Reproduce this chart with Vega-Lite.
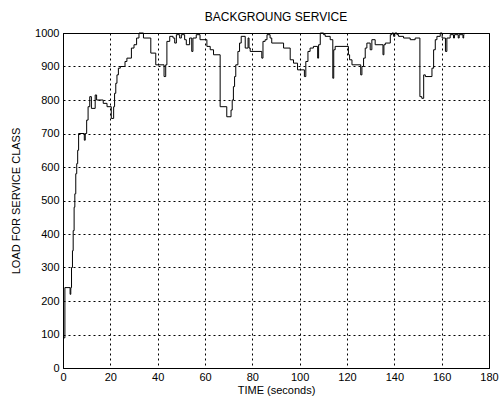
{
  "$schema": "https://vega.github.io/schema/vega-lite/v6.json",
  "width": 426,
  "height": 335,
  "autosize": {"type": "none"},
  "padding": {"left": 63, "top": 33, "right": 12, "bottom": 34},
  "background": "white",
  "title": {"text": "BACKGROUNG SERVICE", "fontSize": 12, "font": "Liberation Sans", "fontWeight": "normal", "color": "black", "offset": 3},
  "config": {
    "view": {"stroke": "black", "strokeWidth": 1},
    "axis": {
      "labelFont": "Liberation Sans", "labelFontSize": 11, "labelColor": "black",
      "titleFont": "Liberation Sans", "titleFontSize": 11, "titleFontWeight": "normal", "titleColor": "black",
      "domainColor": "black", "gridColor": "black", "gridDash": [2, 3], "gridOpacity": 1, "gridWidth": 1,
      "ticks": false
    }
  },
  "data": {"values": [
    {"t":0.4,"load":90},{"t":0.8,"load":240},{"t":3.0,"load":220},{"t":3.3,"load":240},{"t":3.6,"load":300},{"t":4.0,"load":350},{"t":4.3,"load":410},{"t":4.7,"load":480},{"t":5.0,"load":520},{"t":5.4,"load":580},{"t":5.8,"load":610},{"t":6.2,"load":650},{"t":6.6,"load":700},{"t":9.0,"load":680},{"t":9.4,"load":700},{"t":10.0,"load":740},{"t":10.6,"load":780},{"t":11.3,"load":810},{"t":12.0,"load":775},{"t":13.6,"load":815},{"t":14.2,"load":800},{"t":17.0,"load":790},{"t":18.6,"load":780},{"t":20.4,"load":745},{"t":21.4,"load":780},{"t":21.8,"load":820},{"t":22.3,"load":850},{"t":22.8,"load":875},{"t":23.4,"load":895},{"t":24.2,"load":900},{"t":26.2,"load":915},{"t":27.0,"load":925},{"t":28.9,"load":955},{"t":30.0,"load":965},{"t":31.1,"load":985},{"t":32.1,"load":1000},{"t":34.0,"load":985},{"t":37.1,"load":940},{"t":39.2,"load":905},{"t":42.7,"load":870},{"t":43.4,"load":905},{"t":43.9,"load":975},{"t":45.1,"load":990},{"t":46.5,"load":985},{"t":47.2,"load":970},{"t":47.9,"load":995},{"t":49.3,"load":985},{"t":50.0,"load":995},{"t":51.4,"load":980},{"t":52.1,"load":965},{"t":53.5,"load":985},{"t":54.4,"load":945},{"t":54.9,"load":985},{"t":56.3,"load":995},{"t":57.9,"load":980},{"t":60.8,"load":960},{"t":62.2,"load":950},{"t":63.6,"load":935},{"t":66.4,"load":780},{"t":69.2,"load":750},{"t":71.0,"load":770},{"t":71.5,"load":800},{"t":72.0,"load":840},{"t":72.5,"load":870},{"t":73.0,"load":905},{"t":73.9,"load":945},{"t":74.6,"load":970},{"t":75.3,"load":990},{"t":77.0,"load":955},{"t":78.2,"load":985},{"t":78.6,"load":955},{"t":79.1,"load":945},{"t":84.0,"load":925},{"t":84.5,"load":975},{"t":85.4,"load":980},{"t":86.2,"load":995},{"t":87.5,"load":985},{"t":88.2,"load":970},{"t":93.2,"load":955},{"t":96.0,"load":920},{"t":97.4,"load":910},{"t":99.1,"load":890},{"t":102.0,"load":870},{"t":102.6,"load":915},{"t":103.5,"load":945},{"t":104.4,"load":955},{"t":105.8,"load":960},{"t":107.6,"load":925},{"t":108.0,"load":965},{"t":108.7,"load":1000},{"t":110.1,"load":995},{"t":110.8,"load":990},{"t":112.9,"load":980},{"t":114.0,"load":865},{"t":114.4,"load":950},{"t":115.0,"load":960},{"t":120.6,"load":935},{"t":121.1,"load":920},{"t":122.1,"load":905},{"t":125.8,"load":875},{"t":126.3,"load":900},{"t":127.0,"load":925},{"t":127.7,"load":955},{"t":128.4,"load":970},{"t":129.8,"load":950},{"t":130.5,"load":980},{"t":131.9,"load":965},{"t":135.2,"load":935},{"t":135.6,"load":965},{"t":136.2,"load":970},{"t":138.3,"load":995},{"t":139.0,"load":1000},{"t":139.7,"load":990},{"t":140.2,"load":1000},{"t":141.1,"load":995},{"t":141.8,"load":990},{"t":143.9,"load":985},{"t":146.7,"load":980},{"t":148.8,"load":985},{"t":150.8,"load":810},{"t":151.6,"load":805},{"t":152.4,"load":875},{"t":153.1,"load":870},{"t":155.9,"load":895},{"t":156.6,"load":950},{"t":157.3,"load":980},{"t":158.0,"load":990},{"t":159.4,"load":1000},{"t":160.2,"load":985},{"t":161.6,"load":945},{"t":162.2,"load":985},{"t":163.6,"load":995},{"t":165.0,"load":985},{"t":165.4,"load":995},{"t":167.0,"load":985},{"t":167.4,"load":995},{"t":169.0,"load":985},{"t":169.3,"load":995},{"t":169.6,"load":995}
  ]},
  "mark": {"type": "line", "interpolate": "step-after", "color": "black", "strokeWidth": 1},
  "encoding": {
    "x": {
      "field": "t", "type": "quantitative",
      "scale": {"domain": [0, 180], "nice": false},
      "axis": {"title": "TIME (seconds)", "values": [0, 20, 40, 60, 80, 100, 120, 140, 160, 180], "format": "d", "labelPadding": 3, "titlePadding": 2, "labelFlush": false}
    },
    "y": {
      "field": "load", "type": "quantitative",
      "scale": {"domain": [0, 1000], "nice": false},
      "axis": {"title": "LOAD FOR SERVICE CLASS", "values": [0, 100, 200, 300, 400, 500, 600, 700, 800, 900, 1000], "format": "d", "labelPadding": 4, "titlePadding": 13, "labelFlush": false}
    }
  }
}
